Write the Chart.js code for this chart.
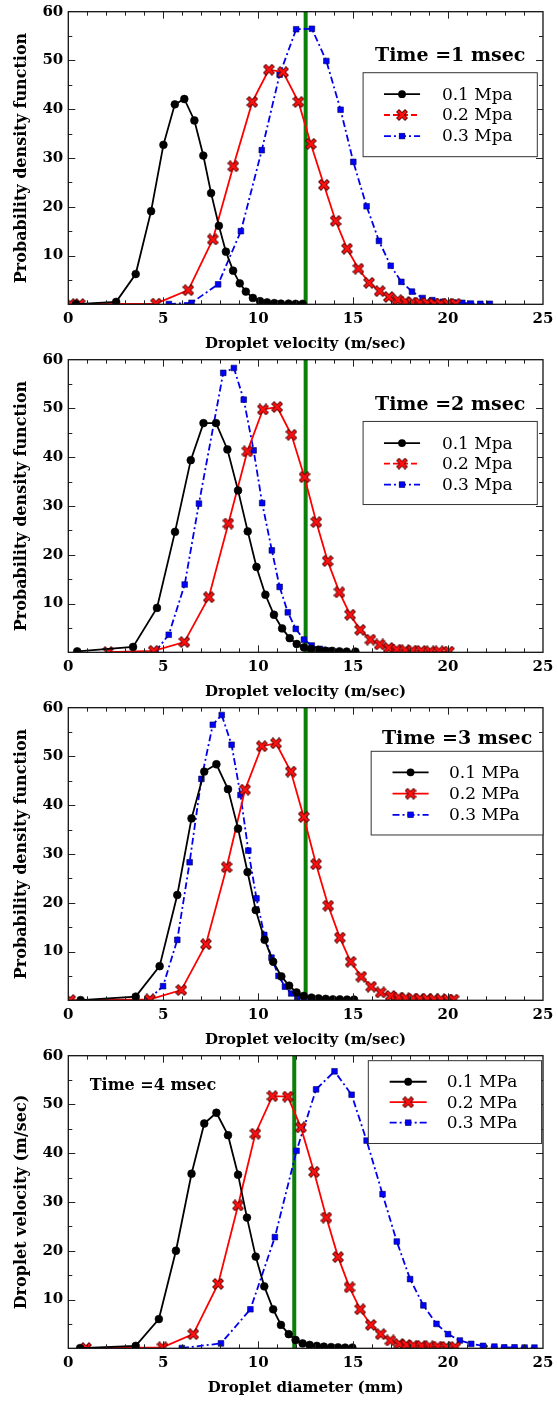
<!DOCTYPE html>
<html>
<head>
<meta charset="utf-8">
<script src="https://cdn.jsdelivr.net/npm/chart.js@4.4.1/dist/chart.umd.min.js"></script>
<style>
  html, body { margin: 0; padding: 0; background: #fff; overflow: hidden; }
  .panel { position: absolute; left: 0; width: 558px; height: 360px; }
</style>
</head>
<body>
<div class="panel" style="top:0px"><canvas id="c1" width="558" height="360"></canvas></div>
<div class="panel" style="top:348px"><canvas id="c2" width="558" height="360"></canvas></div>
<div class="panel" style="top:696px"><canvas id="c3" width="558" height="360"></canvas></div>
<div class="panel" style="top:1044px"><canvas id="c4" width="558" height="360"></canvas></div>
<script>
// tick labels
const xTicks = [0, 5, 10, 15, 20, 25];
const yTicks = [10, 20, 30, 40, 50, 60];

// legend labels
const labelsMpa = ["0.1 Mpa", "0.2 Mpa", "0.3 Mpa"];
const labelsMPa = ["0.1 MPa", "0.2 MPa", "0.3 MPa"];

// vertical green reference line (x position per panel)
const greenX = [12.5, 12.5, 12.5, 11.9];

// Time = 1 msec  [x, pdf]
const t1_01 = [[0.4,0.05],[2.52,0.5],[3.55,6.2],[4.36,19.1],[5.01,32.7],[5.61,41.0],[6.11,42.1],[6.64,37.7],[7.11,30.5],[7.52,22.8],[7.93,16.1],[8.30,10.8],[8.68,6.9],[9.03,4.3],[9.35,2.6],[9.72,1.3],[10.1,0.65],[10.47,0.4],[10.85,0.25],[11.2,0.15],[11.6,0.15],[11.97,0.1],[12.34,0.1]];
const t1_02 = [[0.1,0.05],[0.6,0.05],[4.62,0.15],[6.32,2.9],[7.61,13.3],[8.69,28.3],[9.69,41.5],[10.56,48.1],[11.31,47.6],[12.12,41.5],[12.77,32.9],[13.46,24.5],[14.08,17.1],[14.68,11.4],[15.28,7.3],[15.84,4.4],[16.4,2.7],[16.88,1.5],[17.35,0.85],[17.76,0.5],[18.1,0.35],[18.5,0.3],[18.9,0.25],[19.26,0.15],[19.6,0.15],[20.0,0.1],[20.4,0.1]];
const t1_03 = [[5.3,0.05],[6.49,0.3],[7.89,4.1],[9.09,15.0],[10.19,31.6],[11.13,47.1],[12.0,56.4],[12.83,56.5],[13.59,49.9],[14.34,39.9],[15.01,29.2],[15.71,20.1],[16.36,13.0],[16.98,7.9],[17.54,4.6],[18.1,2.6],[18.66,1.3],[19.17,0.85],[19.73,0.5],[20.3,0.35],[20.75,0.3],[21.2,0.15],[21.7,0.1],[22.2,0.1]];

// Time = 2 msec
const t2_01 = [[0.47,0.2],[3.41,1.1],[4.67,9.1],[5.62,24.7],[6.45,39.4],[7.12,47.0],[7.78,47.0],[8.38,41.6],[8.94,33.2],[9.45,24.8],[9.91,17.5],[10.38,11.8],[10.83,7.7],[11.26,4.9],[11.66,2.9],[12.03,1.7],[12.41,1.0],[12.78,0.7],[13.16,0.5],[13.53,0.35],[13.9,0.3],[14.28,0.2],[14.66,0.15],[15.12,0.15]];
const t2_02 = [[2.1,0.05],[4.5,0.3],[6.11,2.1],[7.4,11.3],[8.43,26.4],[9.43,41.2],[10.25,49.8],[11.0,50.3],[11.75,44.6],[12.44,35.9],[13.06,26.7],[13.66,18.7],[14.28,12.3],[14.84,7.7],[15.37,4.6],[15.91,2.6],[16.4,1.6],[16.87,0.9],[17.29,0.55],[17.75,0.4],[18.12,0.35],[18.59,0.3],[19.06,0.2],[19.53,0.2],[20.04,0.15]];
const t2_03 = [[4.6,0.2],[5.29,3.6],[6.13,13.9],[6.88,30.5],[8.16,57.3],[8.72,58.3],[9.24,51.8],[9.76,41.4],[10.21,30.6],[10.72,20.9],[11.13,13.4],[11.56,8.2],[11.98,4.8],[12.41,2.6],[12.82,1.4],[13.25,0.7],[13.72,0.35]];

// Time = 3 msec
const t3_01 = [[0.65,0.05],[3.55,0.75],[4.81,7.0],[5.74,21.6],[6.49,37.3],[7.16,46.9],[7.8,48.4],[8.41,43.3],[8.94,35.2],[9.44,26.3],[9.87,18.5],[10.34,12.4],[10.79,7.9],[11.22,4.9],[11.63,3.0],[12.02,1.6],[12.4,0.9],[12.81,0.55],[13.18,0.4],[13.56,0.3],[13.93,0.2],[14.3,0.2],[14.68,0.15],[15.05,0.15]];
const t3_02 = [[0.1,0.05],[4.3,0.2],[5.95,2.1],[7.25,11.5],[8.34,27.3],[9.31,43.2],[10.19,52.1],[10.94,52.7],[11.72,46.9],[12.4,37.6],[13.05,27.9],[13.69,19.4],[14.3,12.85],[14.87,7.9],[15.43,4.85],[15.95,2.8],[16.45,1.6],[16.98,0.9],[17.39,0.55],[17.76,0.4],[18.14,0.35],[18.51,0.3],[18.89,0.3],[19.26,0.2],[19.63,0.2],[20.0,0.15],[20.29,0.15]];
const t3_03 = [[4.2,0.1],[4.99,2.9],[5.74,12.4],[6.39,28.3],[7.01,45.4],[7.61,56.5],[8.08,58.5],[8.6,52.4],[9.07,42.1],[9.48,30.7],[9.91,20.9],[10.32,13.4],[10.7,8.75],[11.07,5.0],[11.41,2.8],[11.74,1.4],[12.06,0.6],[12.43,0.2]];

// Time = 4 msec
const t4_01 = [[0.62,0.05],[3.55,0.5],[4.77,6.0],[5.67,20.0],[6.49,35.8],[7.16,46.1],[7.8,48.3],[8.41,43.7],[8.94,35.6],[9.41,26.8],[9.87,18.8],[10.32,12.7],[10.79,8.0],[11.2,4.8],[11.61,2.9],[11.97,1.7],[12.34,1.0],[12.71,0.7],[13.09,0.5],[13.46,0.35],[13.84,0.25],[14.21,0.2],[14.58,0.15],[14.96,0.15]];
const t4_02 = [[0.93,0.05],[4.96,0.2],[6.58,2.9],[7.89,13.2],[8.94,29.3],[9.85,44.0],[10.75,51.7],[11.56,51.6],[12.25,45.3],[12.94,36.2],[13.59,26.8],[14.21,18.7],[14.81,12.5],[15.37,8.0],[15.93,4.8],[16.45,2.9],[16.96,1.6],[17.43,0.9],[17.8,0.7],[18.17,0.55],[18.6,0.5],[19.02,0.4],[19.45,0.35],[19.91,0.3],[20.38,0.25]];
const t4_03 = [[5.98,0.05],[8.04,1.0],[9.59,8.0],[10.88,22.8],[12.02,40.5],[13.05,53.1],[14.02,56.8],[14.92,52.0],[15.71,42.6],[16.55,31.6],[17.3,21.9],[18.0,14.2],[18.7,8.8],[19.39,5.0],[20.0,2.9],[20.62,1.6],[21.22,0.9],[21.84,0.5],[22.44,0.35],[22.96,0.2],[23.5,0.2],[24.03,0.15],[24.55,0.15]];

const FONT = "'DejaVu Serif'";
Chart.defaults.font.family = FONT;
Chart.defaults.color = "#000";

// filled "X" marker with dark edge, like matplotlib's 'X'
function makeXMarker() {
  const c = document.createElement("canvas");
  c.width = 12; c.height = 12;
  const g = c.getContext("2d");
  const cross = (w, col) => {
    g.strokeStyle = col; g.lineWidth = w; g.lineCap = "square";
    g.beginPath();
    g.moveTo(3, 3); g.lineTo(9, 9);
    g.moveTo(9, 3); g.lineTo(3, 9);
    g.stroke();
  };
  cross(4.2, "#4a0000");
  cross(2.6, "#ff1010");
  return c;
}
const xMarker = makeXMarker();

const styles = [
  { color: "#000000", dash: [], point: "circle", radius: 3.9, fill: "#000000", edge: "#000000" },
  { color: "#ff0000", dash: [], point: xMarker, radius: 4, fill: "#ff0000", edge: "#4a0000" },
  { color: "#0000ee", dash: [7, 3, 2, 3], point: "rect", radius: 4, fill: "#0000ff", edge: "#000050" }
];

function drawMarker(ctx, s, x, y) {
  if (s.point === "circle") {
    ctx.beginPath(); ctx.arc(x, y, s.radius, 0, Math.PI * 2);
    ctx.fillStyle = s.fill; ctx.fill();
  } else if (s.point === "rect") {
    const h = s.radius * Math.SQRT1_2;
    ctx.fillStyle = s.fill; ctx.fillRect(x - h, y - h, 2 * h, 2 * h);
    ctx.strokeStyle = s.edge; ctx.lineWidth = 0.6; ctx.setLineDash([]);
    ctx.strokeRect(x - h, y - h, 2 * h, 2 * h);
  } else {
    ctx.drawImage(s.point, x - s.point.width / 2, y - s.point.height / 2);
  }
}

// inward ticks on all four sides, the frame, and the legend box
const framePlugin = {
  id: "frame",
  afterDraw(chart, args, opts) {
    const { ctx, chartArea: a, scales } = chart;
    const sx = scales.x, sy = scales.y;
    ctx.save();
    ctx.strokeStyle = "#222";
    ctx.lineWidth = 1;
    const seg = (x0, y0, x1, y1) => { ctx.beginPath(); ctx.moveTo(x0, y0); ctx.lineTo(x1, y1); ctx.stroke(); };
    for (let v = 1; v < 25; v++) {
      const len = xTicks.includes(v) ? 7 : 4;
      const px = Math.round(sx.getPixelForValue(v)) + 0.5;
      seg(px, a.bottom, px, a.bottom - len);
      seg(px, a.top, px, a.top + len);
    }
    for (let v = 5; v < 60; v += 5) {
      const len = yTicks.includes(v) ? 7 : 4;
      const py = Math.round(sy.getPixelForValue(v)) + 0.5;
      seg(a.left, py, a.left + len, py);
      seg(a.right, py, a.right - len, py);
    }
    ctx.strokeStyle = "#111";
    ctx.lineWidth = 1.3;
    ctx.strokeRect(a.left, a.top, a.width, a.height);

    const L = opts.legend;
    const fx = f => a.left + f * a.width;
    const fy = f => a.top + f * a.height;
    // title
    ctx.fillStyle = "#000";
    ctx.font = L.titleFont;
    ctx.textAlign = L.titleAlign;
    ctx.textBaseline = "middle";
    ctx.fillText(L.title, fx(L.titleX), fy(L.titleY));
    // box
    const bx0 = fx(L.box[0]), by0 = fy(L.box[1]), bx1 = fx(L.box[2]), by1 = fy(L.box[3]);
    ctx.fillStyle = "#fff";
    ctx.fillRect(bx0, by0, bx1 - bx0, by1 - by0);
    ctx.strokeStyle = "#333";
    ctx.lineWidth = 1;
    ctx.strokeRect(bx0, by0, bx1 - bx0, by1 - by0);
    // entries
    for (let i = 0; i < 3; i++) {
      const s = styles[i];
      const y = fy(L.rows[i]);
      const x0 = fx(L.sample[0]), x1 = fx(L.sample[1]);
      ctx.strokeStyle = s.color;
      ctx.lineWidth = 1.8;
      ctx.setLineDash(i === 1 && L.redDash ? [6, 3] : s.dash);
      seg(x0, y, x1, y);
      ctx.setLineDash([]);
      drawMarker(ctx, s, (x0 + x1) / 2, y);
      ctx.fillStyle = "#000";
      ctx.font = "17px " + FONT;
      ctx.textAlign = "left";
      ctx.textBaseline = "middle";
      ctx.fillText(L.labels[i], fx(L.text), y + 1);
    }
    ctx.restore();
  }
};

function makePanel(id, series, gx, xTitle, yTitle, legend) {
  const datasets = series.map((d, i) => ({
    data: d,
    borderColor: styles[i].color,
    borderWidth: 1.8,
    borderDash: styles[i].dash,
    pointStyle: styles[i].point,
    pointRadius: styles[i].radius,
    pointBackgroundColor: styles[i].fill,
    pointBorderColor: styles[i].edge,
    pointBorderWidth: 0.6,
    tension: 0,
    fill: false
  }));
  datasets.push({
    data: [[gx, 0], [gx, 60]],
    borderColor: "#0a7f0a",
    borderWidth: 4,
    pointRadius: 0,
    fill: false
  });

  return new Chart(document.getElementById(id), {
    type: "line",
    data: { datasets },
    plugins: [framePlugin],
    options: {
      responsive: false,
      animation: false,
      layout: { padding: { top: 11.7, right: 15, bottom: 0, left: 0 } },
      plugins: {
        legend: { display: false },
        tooltip: { enabled: false },
        frame: { legend }
      },
      scales: {
        x: {
          type: "linear", min: 0, max: 25,
          afterBuildTicks: s => { s.ticks = xTicks.map(v => ({ value: v })); },
          afterFit: s => { s.height = 55.7; s.paddingLeft = 0; s.paddingRight = 0; },
          grid: { display: false, drawTicks: false },
          border: { display: false },
          ticks: { color: "#000", padding: 6, maxRotation: 0, font: { size: 15, weight: "bold" } },
          title: { display: true, text: xTitle, color: "#000", font: { size: 15, weight: "bold" }, padding: { top: 0, bottom: 7 } }
        },
        y: {
          type: "linear", min: 0, max: 60,
          afterBuildTicks: s => { s.ticks = yTicks.map(v => ({ value: v })); },
          afterFit: s => { s.width = 68.3; s.paddingTop = 0; s.paddingBottom = 0; },
          grid: { display: false, drawTicks: false },
          border: { display: false },
          ticks: { color: "#000", padding: 5, font: { size: 15, weight: "bold" } },
          title: { display: true, text: yTitle, color: "#000", font: { size: 16, weight: "bold" }, padding: { top: 12.5, bottom: 0 } }
        }
      }
    }
  });
}

const boxLegend = (title, labels, redDash, box, titleY, rows, sample, text) => ({
  title, titleFont: "bold 19px " + FONT, titleAlign: "center",
  titleX: (box[0] + box[2]) / 2, titleY, box, rows, sample, text, labels, redDash
});

makePanel("c1", [t1_01, t1_02, t1_03], greenX[0], "Droplet velocity (m/sec)", "Probability density function",
  boxLegend("Time =1 msec", labelsMpa, true, [0.621, 0.2085, 0.988, 0.4955], 0.151, [0.282, 0.353, 0.425], [0.665, 0.741], 0.787));
makePanel("c2", [t2_01, t2_02, t2_03], greenX[1], "Droplet velocity (m/sec)", "Probability density function",
  boxLegend("Time =2 msec", labelsMpa, true, [0.621, 0.211, 0.988, 0.495], 0.154, [0.285, 0.355, 0.427], [0.665, 0.741], 0.787));
makePanel("c3", [t3_01, t3_02, t3_03], greenX[2], "Droplet velocity (m/sec)", "Probability density function",
  boxLegend("Time =3 msec", labelsMPa, false, [0.638, 0.149, 1.0, 0.435], 0.106, [0.221, 0.294, 0.366], [0.683, 0.759], 0.802));
makePanel("c4", [t4_01, t4_02, t4_03], greenX[3], "Droplet diameter (mm)", "Droplet velocity (m/sec)", {
  title: "Time =4 msec", titleFont: "bold 16px " + FONT, titleAlign: "left", titleX: 0.045, titleY: 0.104,
  box: [0.632, 0.017, 0.997, 0.30], rows: [0.089, 0.159, 0.229], sample: [0.677, 0.755], text: 0.797,
  labels: labelsMPa, redDash: false
});
</script>
</body>
</html>
